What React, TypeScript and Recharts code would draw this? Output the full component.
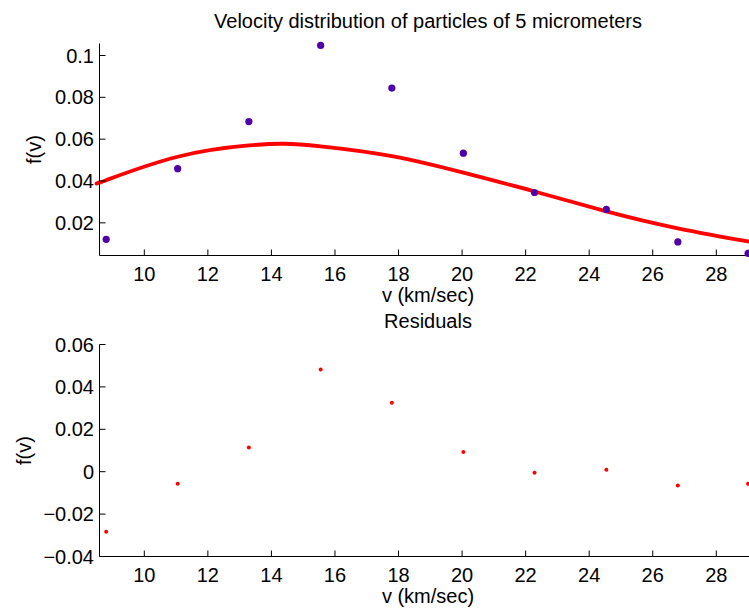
import React from "react";
import { ComposedChart, Scatter, Line, XAxis, YAxis } from "recharts";

const pointV = [8.8, 11.05, 13.29, 15.55, 17.79, 20.04, 22.28, 24.54, 26.79, 29.0];
const pointF = [0.0121, 0.0459, 0.0684, 0.1048, 0.0844, 0.0533, 0.0345, 0.0264, 0.0109, 0.0054];
const residualF = [-0.0283, -0.0057, 0.0114, 0.0482, 0.0325, 0.0093, -0.0005, 0.0009, -0.0065, -0.0057];

const curveV = [8.59, 8.8, 11.05, 13.29, 14.4, 15.55, 17.79, 20.04, 22.28, 24.54, 26.79, 29.0, 29.265];
const curveF = [0.0394, 0.0404, 0.0516, 0.057, 0.0578, 0.0566, 0.0519, 0.044, 0.035, 0.0255, 0.0174, 0.0111, 0.0104];

const xTicks = [10, 12, 14, 16, 18, 20, 22, 24, 26, 28];
const yTicksTop = [0.02, 0.04, 0.06, 0.08, 0.1];
const yTicksBottom = [-0.04, -0.02, 0, 0.02, 0.04, 0.06];

const xDomain = [8.59, 29.265];
const yDomainTop = [0.00439, 0.10573];
const yDomainBottom = [-0.04, 0.06];

const pointData = pointV.map((v, i) => ({ v, f: pointF[i] }));
const residualData = pointV.map((v, i) => ({ v, f: residualF[i] }));
const curveData = curveV.map((v, i) => ({ v, f: curveF[i] }));

const FONT = "'Liberation Sans', Arial, Helvetica, sans-serif";
const FS = 20;
const TICK = 6;

const fmt = (n: number) => (n < 0 ? "\u2212" + String(Math.abs(n)) : String(n));

const XTickBottom = (props: any) => {
  const { x, y, payload } = props;
  return (
    <g>
      <line x1={x} y1={y} x2={x} y2={y - TICK} stroke="#000" strokeWidth={1} />
      <text x={x} y={y + 25.6} textAnchor="middle" fontSize={FS} fontFamily={FONT} fill="#000">
        {fmt(payload.value)}
      </text>
    </g>
  );
};

const XTickTop = (props: any) => {
  const { x, y } = props;
  return <line x1={x} y1={y} x2={x} y2={y + TICK} stroke="#000" strokeWidth={1} />;
};

const YTickLeft = (props: any) => {
  const { x, y, payload } = props;
  return (
    <g>
      <line x1={x} y1={y} x2={x + TICK} y2={y} stroke="#000" strokeWidth={1} />
      <text x={x - 5.5} y={y + 7.1} textAnchor="end" fontSize={FS} fontFamily={FONT} fill="#000">
        {fmt(payload.value)}
      </text>
    </g>
  );
};

const PurpleDot = (p: any) => <circle cx={p.cx} cy={p.cy} r={3.6} fill="#5000a8" />;
const RedDot = (p: any) => <circle cx={p.cx} cy={p.cy} r={2} fill="#ff0000" />;

const CW = 800;
const CH = 610;

export default function App() {
  return (
    <div
      style={{
        position: "absolute",
        left: 0,
        top: 0,
        width: 749,
        height: 610,
        overflow: "hidden",
        background: "#fff",
      }}
    >
      <div style={{ position: "absolute", left: 0, top: 0 }}>
        <ComposedChart
          width={CW}
          height={CH}
          margin={{ top: 43.5, left: 39.5, right: 43.5, bottom: 324.5 }}
        >
          <XAxis
            dataKey="v"
            type="number"
            domain={xDomain}
            ticks={xTicks}
            tickSize={0}
            tickMargin={0}
            tickLine={false}
            tick={<XTickBottom />}
            height={30}
            axisLine={{ stroke: "#000", strokeWidth: 1 }}
            interval={0}
          />
          <XAxis
            xAxisId="top"
            orientation="top"
            type="number"
            domain={xDomain}
            ticks={xTicks}
            tickSize={0}
            tickMargin={0}
            tickLine={false}
            tick={<XTickTop />}
            height={0}
            axisLine={{ stroke: "#000", strokeWidth: 1 }}
            interval={0}
          />
          <YAxis
            type="number"
            domain={yDomainTop}
            ticks={yTicksTop}
            tickSize={0}
            tickMargin={0}
            tickLine={false}
            tick={<YTickLeft />}
            width={60}
            axisLine={{ stroke: "#000", strokeWidth: 1 }}
            interval={0}
          />
          <Scatter data={pointData} dataKey="f" shape={<PurpleDot />} isAnimationActive={false} />
          <Line
            data={curveData}
            dataKey="f"
            type="natural"
            stroke="#ff0000"
            strokeWidth={3.8}
            dot={false}
            activeDot={false}
            isAnimationActive={false}
          />
        </ComposedChart>
      </div>
      <div style={{ position: "absolute", left: 0, top: 0 }}>
        <ComposedChart
          width={CW}
          height={CH}
          margin={{ top: 344.5, left: 39.5, right: 43.5, bottom: 23.5 }}
        >
          <XAxis
            dataKey="v"
            type="number"
            domain={xDomain}
            ticks={xTicks}
            tickSize={0}
            tickMargin={0}
            tickLine={false}
            tick={<XTickBottom />}
            height={30}
            axisLine={{ stroke: "#000", strokeWidth: 1 }}
            interval={0}
          />
          <XAxis
            xAxisId="top"
            orientation="top"
            type="number"
            domain={xDomain}
            ticks={xTicks}
            tickSize={0}
            tickMargin={0}
            tickLine={false}
            tick={<XTickTop />}
            height={0}
            axisLine={{ stroke: "#000", strokeWidth: 1 }}
            interval={0}
          />
          <YAxis
            type="number"
            domain={yDomainBottom}
            ticks={yTicksBottom}
            tickSize={0}
            tickMargin={0}
            tickLine={false}
            tick={<YTickLeft />}
            width={60}
            axisLine={{ stroke: "#000", strokeWidth: 1 }}
            interval={0}
          />
          <Scatter data={residualData} dataKey="f" shape={<RedDot />} isAnimationActive={false} />
        </ComposedChart>
      </div>
      <svg
        width={749}
        height={610}
        style={{ position: "absolute", left: 0, top: 0, pointerEvents: "none" }}
        fontFamily={FONT}
        fontSize={FS}
        fill="#000"
      >
        <text x={428} y={28.3} textAnchor="middle">Velocity distribution of particles of 5 micrometers</text>
        <text x={428} y={302} textAnchor="middle">v (km/sec)</text>
        <text x={428} y={328.3} textAnchor="middle">Residuals</text>
        <text x={428} y={602.5} textAnchor="middle">v (km/sec)</text>
        <text x={40.5} y={149.5} textAnchor="middle" transform="rotate(-90 40.5 149.5)">f(v)</text>
        <text x={31} y={450.5} textAnchor="middle" transform="rotate(-90 31 450.5)">f(v)</text>
      </svg>
    </div>
  );
}
